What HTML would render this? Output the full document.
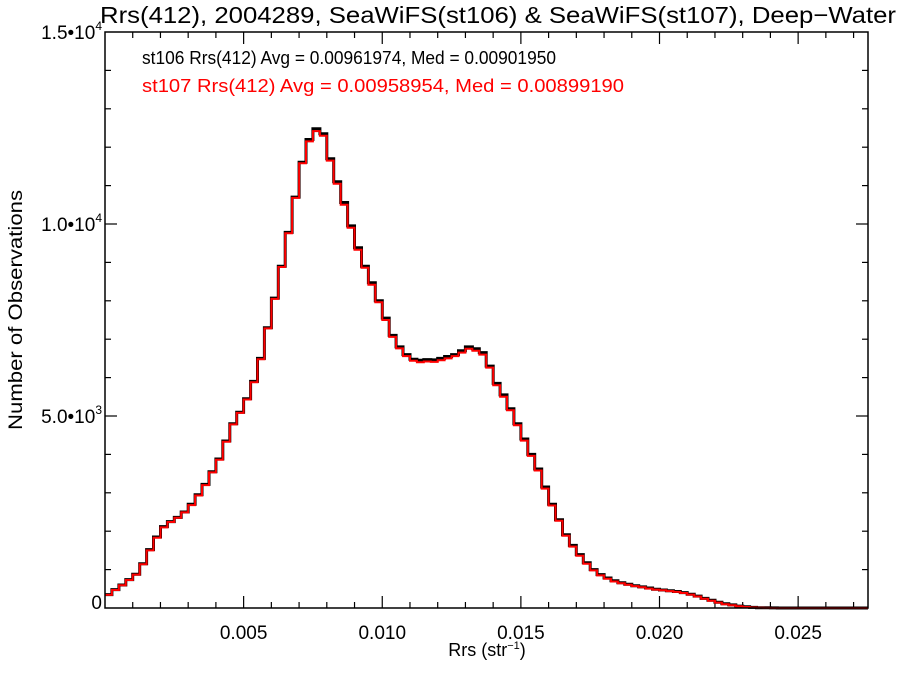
<!DOCTYPE html>
<html><head><meta charset="utf-8"><style>
body{margin:0;background:#fff}
svg{display:block;font-family:"Liberation Sans",Helvetica,Arial,sans-serif}
</style></head><body>
<svg id="chart" width="900" height="675" viewBox="0 0 900 675">
<rect width="900" height="675" fill="#fff"/>
<text x="498" y="23" font-size="23.5" text-anchor="middle" textLength="796" lengthAdjust="spacingAndGlyphs">Rrs(412), 2004289, SeaWiFS(st106) &amp; SeaWiFS(st107), Deep−Water</text>
<text x="142" y="64" font-size="18" fill="#000" textLength="414" lengthAdjust="spacingAndGlyphs">st106 Rrs(412) Avg = 0.00961974, Med = 0.00901950</text>
<text x="142" y="92" font-size="18" fill="#ff0000" textLength="482" lengthAdjust="spacingAndGlyphs">st107 Rrs(412) Avg = 0.00958954, Med = 0.00899190</text>
<text x="487" y="656" font-size="18" text-anchor="middle">Rrs (str<tspan dy="-7" font-size="11">−1</tspan><tspan dy="7">)</tspan></text>
<text transform="translate(22,310) rotate(-90)" font-size="19" text-anchor="middle" textLength="240" lengthAdjust="spacingAndGlyphs">Number of Observations</text>
<g id="ticks"></g>
<g id="series"></g>
<rect x="105" y="32" width="763" height="576" fill="none" stroke="#000" stroke-width="1.5"/>
</svg>
<script>
const binWidth = 0.00025;
const st106 = [350,480,600,740,880,1150,1520,1850,2120,2250,2360,2500,2700,2950,3220,3550,3880,4350,4800,5100,5450,5900,6500,7300,8070,8900,9780,10700,11610,12200,12480,12350,11700,11100,10560,9950,9380,8900,8470,8000,7550,7100,6800,6600,6480,6450,6470,6460,6500,6550,6600,6700,6800,6750,6650,6300,5850,5550,5190,4800,4400,4000,3620,3150,2700,2300,1910,1630,1390,1180,1000,870,780,710,660,620,580,550,520,490,470,450,430,400,360,310,250,200,150,110,80,50,30,15,8,4,2,1,0,0,0,0,0,0,0,0,0,0,0,0,0,0];
const st107 = [340,470,590,730,870,1140,1500,1830,2100,2240,2350,2490,2680,2930,3200,3530,3860,4330,4780,5080,5430,5880,6480,7280,8050,8880,9760,10680,11580,12150,12420,12300,11650,11050,10500,9900,9330,8860,8420,7960,7500,7060,6760,6560,6440,6400,6420,6410,6450,6500,6560,6650,6750,6700,6600,6260,5800,5500,5150,4760,4360,3960,3580,3110,2670,2270,1880,1600,1360,1150,980,850,760,690,645,605,570,540,505,480,460,440,420,390,350,300,240,190,140,100,70,45,25,12,6,3,1,0,0,0,0,0,0,0,0,0,0,0,0,0,0];
const xTickLabels = ["0.005","0.010","0.015","0.020","0.025"];
const xTickValues = [0.005,0.010,0.015,0.020,0.025];
const yTickValues = [0,5000,10000,15000];
const yTickLabels = ["0","5.0•10|3","1.0•10|4","1.5•10|4"];

const X0=105,X1=868,Y0=608,Y1=32,XMIN=0,XMAX=0.02752,YMIN=0,YMAX=15000;
const xs=v=>X0+(v-XMIN)/(XMAX-XMIN)*(X1-X0);
const ys=v=>Y0-(v-YMIN)/(YMAX-YMIN)*(Y0-Y1);
const NS="http://www.w3.org/2000/svg";
const ticks=document.getElementById('ticks');
function line(x1,y1,x2,y2,name){const l=document.createElementNS(NS,'line');
l.setAttribute('x1',x1);l.setAttribute('y1',y1);l.setAttribute('x2',x2);l.setAttribute('y2',y2);
l.setAttribute('stroke','#000');l.setAttribute('stroke-width','1.2');


ticks.appendChild(l);}
for(let v=0.001;v<XMAX;v+=0.001){const major=Math.abs(v/0.005-Math.round(v/0.005))<1e-6;const L=major?12:6;const x=xs(v);
line(x,Y0,x,Y0-L,'x-tick');line(x,Y1,x,Y1+L,'x-tick-top');}
for(let v=1000;v<YMAX;v+=1000){const major=v%5000===0;const L=major?12:6;const y=ys(v);
line(X0,y,X0+L,y,'y-tick');line(X1,y,X1-L,y,'y-tick-right');}
xTickValues.forEach((v,i)=>{const t=document.createElementNS(NS,'text');t.setAttribute('x',xs(v));t.setAttribute('y',Y0+31);
t.setAttribute('text-anchor','middle');t.setAttribute('font-size','19');t.textContent=xTickLabels[i];


ticks.appendChild(t);});
yTickValues.forEach((v,i)=>{const t=document.createElementNS(NS,'text');t.setAttribute('x',X0-3);t.setAttribute('y',ys(v)+(i==0?1:7));
t.setAttribute('text-anchor','end');t.setAttribute('font-size','19');
const parts=yTickLabels[i].split('|');t.appendChild(document.createTextNode(parts[0]));
if(parts[1]){const s=document.createElementNS(NS,'tspan');s.setAttribute('dy','-9');s.setAttribute('font-size','12');s.textContent=parts[1];t.appendChild(s);}


ticks.appendChild(t);});
const series=document.getElementById('series');
function step(arr,color,w,name){let d='';arr.forEach((v,i)=>{const xa=xs(i*binWidth),xb=Math.min(xs((i+1)*binWidth),X1),y=ys(v);
if(xa>=X1)return;d+=(i===0?'M':'L')+xa.toFixed(1)+','+y.toFixed(1)+'L'+xb.toFixed(1)+','+y.toFixed(1);});
const p=document.createElementNS(NS,'path');p.setAttribute('d',d);p.setAttribute('fill','none');p.setAttribute('stroke',color);p.setAttribute('stroke-width',w);


series.appendChild(p);}
step(st106,'#000','3','st106-histogram');
step(st107,'#ff0000','2','st107-histogram');
</script>
</body></html>
